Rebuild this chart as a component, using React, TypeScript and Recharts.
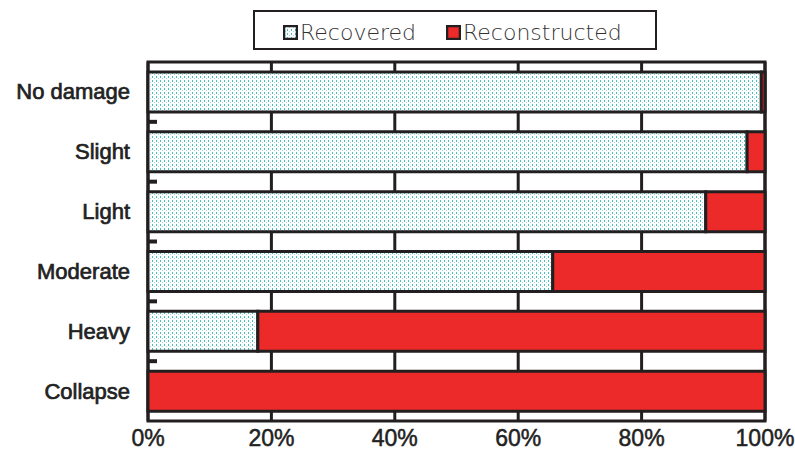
import React from 'react';
import {
  BarChart,
  Bar,
  XAxis,
  YAxis,
  CartesianGrid,
  Legend,
  ReferenceArea,
} from 'recharts';

const categories = ['No damage', 'Slight', 'Light', 'Moderate', 'Heavy', 'Collapse'];
const recovered = [99.4, 97.1, 90.4, 65.6, 17.8, 0];
const reconstructed = [0.6, 2.9, 9.6, 34.4, 82.2, 100];
const xTicks = [0, 20, 40, 60, 80, 100];
const seriesOrder = ['Recovered', 'Reconstructed'];

const data = categories.map((name, i) => ({
  name,
  recovered: recovered[i],
  reconstructed: reconstructed[i],
}));

const W = 795;
const H = 459;
const TOP = 62;
const AXIS_H = 38;
const PLOT_LEFT = 148;
const BAND = (H - TOP - AXIS_H) / categories.length;
const INK = '#231f20';
const RED = '#ec2a2a';
const FONT = '"Liberation Sans", Arial, sans-serif';

const CategoryTick = (props: any) => {
  const { x, y, payload, index } = props;
  return (
    <g>
      <text
        x={x}
        y={y}
        textAnchor="end"
        dominantBaseline="central"
        fontFamily={FONT}
        fontSize={22}
        fill="#222"
        stroke="#222"
        strokeWidth={0.7}
      >
        {payload.value}
      </text>
      {index < categories.length - 1 && (
        <line
          x1={PLOT_LEFT}
          x2={PLOT_LEFT + 9}
          y1={y + BAND / 2}
          y2={y + BAND / 2}
          stroke={INK}
          strokeWidth={4}
        />
      )}
    </g>
  );
};

const LegendBox = (props: any) => {
  const items = [...(props.payload || [])].sort(
    (a: any, b: any) => seriesOrder.indexOf(a.value) - seriesOrder.indexOf(b.value),
  );
  return (
    <div
      style={{
        boxSizing: 'border-box',
        width: 404,
        height: 40,
        border: `2px solid ${INK}`,
        background: '#fff',
        display: 'flex',
        alignItems: 'center',
        paddingLeft: 28,
        paddingTop: 4,
        gap: 30,
        fontFamily: '"DejaVu Sans", sans-serif',
        fontWeight: 200,
        fontSize: 22,
        color: '#333',
      }}
    >
      {items.map((it: any) => (
        <div key={it.value} style={{ display: 'flex', alignItems: 'center' }}>
          <svg width={15} height={15} style={{ marginRight: 2 }}>
            <rect x={1} y={1} width={13} height={13} fill={it.color} stroke={INK} strokeWidth={2.5} />
          </svg>
          <span>{it.value}</span>
        </div>
      ))}
    </div>
  );
};

export default function App() {
  return (
    <div style={{ position: 'absolute', left: 0, top: 0, width: W, height: H, background: '#fff' }}>
      <BarChart
        width={W}
        height={H}
        data={data}
        layout="vertical"
        margin={{ top: TOP, right: 30, bottom: 0, left: 0 }}
        barSize={40}
      >
        <defs>
          <pattern id="dots" width={4} height={4} patternUnits="userSpaceOnUse">
            <rect width={4} height={4} fill="#ffffff" />
            <rect x={0} y={0} width={1} height={2} fill="#44c1be" />
            <rect x={2} y={2} width={1} height={1} fill="#9edddA" />
          </pattern>
        </defs>
        <CartesianGrid horizontal={false} stroke={INK} strokeWidth={3} />
        <XAxis
          type="number"
          domain={[0, 100]}
          ticks={xTicks}
          tickFormatter={(v) => `${v}%`}
          axisLine={false}
          tickLine={false}
          tickSize={8}
          tickMargin={1}
          height={AXIS_H}
          interval={0}
          tick={{ fontFamily: FONT, fontSize: 23, fill: '#222', stroke: '#222', strokeWidth: 0.5 }}
        />
        <YAxis
          type="category"
          dataKey="name"
          width={PLOT_LEFT}
          axisLine={false}
          tickLine={false}
          tickSize={8}
          tickMargin={10}
          interval={0}
          tick={<CategoryTick />}
        />
        <Legend
          layout="horizontal"
          verticalAlign="middle"
          align="center"
          width={404}
          wrapperStyle={{ top: 10, left: 253, width: 404, height: 40 }}
          content={<LegendBox />}
        />
        <Bar
          dataKey="recovered"
          name="Recovered"
          stackId="a"
          fill="url(#dots)"
          stroke={INK}
          strokeWidth={3}
          isAnimationActive={false}
        />
        <Bar
          dataKey="reconstructed"
          name="Reconstructed"
          stackId="a"
          fill={RED}
          stroke={INK}
          strokeWidth={3}
          isAnimationActive={false}
        />
        <ReferenceArea x1={0} x2={100} fill="none" stroke={INK} strokeWidth={3} ifOverflow="visible" />
      </BarChart>
    </div>
  );
}
